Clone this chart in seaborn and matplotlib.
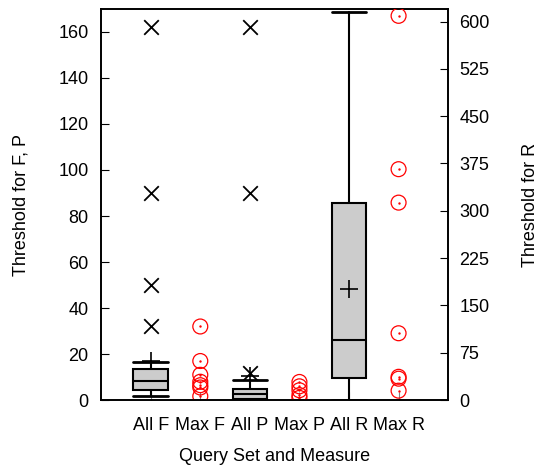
import numpy as np
import pandas as pd
import matplotlib
matplotlib.use("Agg")
import matplotlib.pyplot as plt
import seaborn as sns

# categories along the x axis
categories = ["All F", "Max F", "All P", "Max P", "All R", "Max R"]

# box summaries (left axis for F, P; right axis for R)
all_f = dict(whislo=1.7, q1=4.6, med=8.4, q3=13.7, whishi=16.6, mean=17.0)
all_p = dict(whislo=0.0, q1=0.6, med=2.5, q3=4.8, whishi=8.7, mean=10.4)
all_r = dict(whislo=1.0, q1=35.0, med=96.0, q3=313.0, whishi=615.0, mean=176.0)

# outliers of the "All" sets (drawn as x)
all_f_out = [32, 50, 90, 162]
all_p_out = [11.7, 90, 162]

# per-query maxima (drawn as red circles)
max_f = [32, 17, 11, 8, 6.5, 5.5, 1.7]
max_p = [7.9, 6.0, 4.3, 2.2, 1.0]
max_r = [609, 366, 313, 106, 37, 34, 15]

sns.set_style("ticks")
plt.rcParams["font.family"] = ["Liberation Sans", "DejaVu Sans"]
plt.rcParams["font.size"] = 13
plt.rcParams["text.color"] = "black"
plt.rcParams["axes.labelcolor"] = "black"
plt.rcParams["xtick.color"] = "black"
plt.rcParams["ytick.color"] = "black"

fig = plt.figure(figsize=(5.38, 4.68), dpi=100)
ax = fig.add_axes([0.188, 0.145, 0.645, 0.836])
ax2 = ax.twinx()

box_kw = dict(widths=0.7, capwidths=0.7, patch_artist=True, showmeans=True,
              showfliers=False,
              boxprops=dict(facecolor="#cccccc", edgecolor="black", linewidth=1.5),
              medianprops=dict(color="black", linewidth=1.5),
              whiskerprops=dict(color="black", linewidth=1.5),
              capprops=dict(color="black", linewidth=2),
              meanprops=dict(marker="+", markeredgecolor="black", markersize=13,
                             markeredgewidth=1.2))
ax.bxp([all_f, all_p], positions=[1, 3], **box_kw)
ax2.bxp([all_r], positions=[5], **box_kw)

# outlier crosses
crosses = pd.DataFrame({"pos": [1] * len(all_f_out) + [3] * len(all_p_out),
                        "val": all_f_out + all_p_out})
sns.scatterplot(data=crosses, x="pos", y="val", ax=ax, marker="x", color="black",
                s=110, linewidth=1.3, zorder=5)

# red circles for maxima
left_max = pd.DataFrame({"pos": [2] * len(max_f) + [4] * len(max_p),
                         "val": max_f + max_p})
right_max = pd.DataFrame({"pos": [6] * len(max_r), "val": max_r})
for a, d in [(ax, left_max), (ax2, right_max)]:
    sns.scatterplot(data=d, x="pos", y="val", ax=a, marker="o", s=115,
                    facecolor="none", edgecolor="red", linewidth=0.9, zorder=5)
    sns.scatterplot(data=d, x="pos", y="val", ax=a, marker="o", s=3,
                    color="red", linewidth=0, zorder=5)

ax.set_xlim(0, 7)
ax.set_ylim(0, 170)
ax2.set_ylim(0, 620)
ax.set_xticks(range(1, 7))
ax.set_xticklabels(categories)
ax.set_yticks(np.arange(0, 161, 20))
ax2.set_yticks(np.arange(0, 601, 75))

ax.tick_params(axis="y", direction="in", length=6, left=True, right=False,
               labelsize=13, pad=9)
ax.tick_params(axis="x", direction="in", length=6, color="gray", labelsize=13, pad=12)
ax2.tick_params(axis="y", direction="in", length=6, labelsize=13, pad=8)

ax.set_xlabel("Query Set and Measure", fontsize=13, labelpad=10)
ax.set_ylabel("Threshold for F, P", fontsize=13, labelpad=21)
ax2.set_ylabel("Threshold for R", fontsize=13, labelpad=23)

for a in (ax, ax2):
    for s in a.spines.values():
        s.set_visible(True)
        s.set_color("black")
        s.set_linewidth(1.2)

fig.savefig("out.png", dpi=100)
